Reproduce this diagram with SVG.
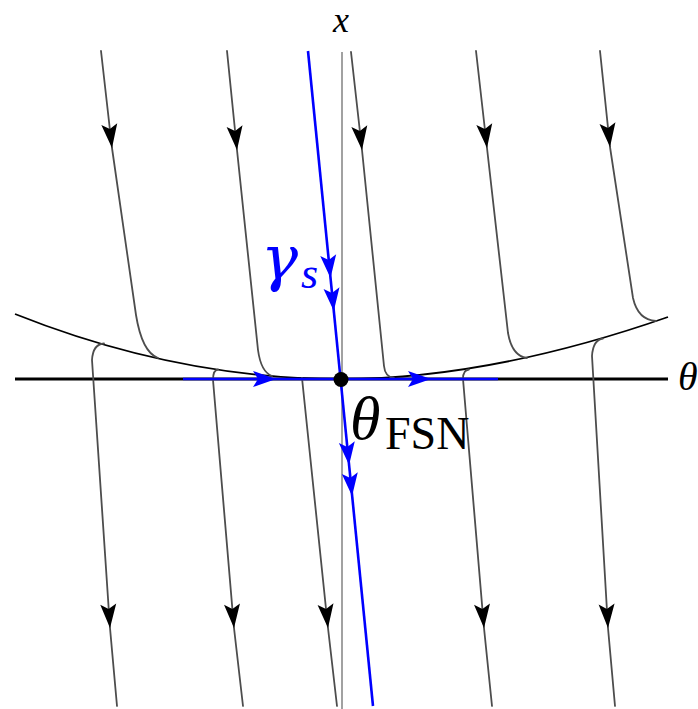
<svg xmlns="http://www.w3.org/2000/svg" xmlns:xlink="http://www.w3.org/1999/xlink" width="698" height="709" viewBox="0 0 698 709">
<style>
.traj{fill:none;stroke:#4d4d4d;stroke-width:1.8;stroke-linejoin:round;stroke-linecap:round}
.axis{fill:none;stroke:#000;stroke-width:3}
.xaxis{fill:none;stroke:#8a8a8a;stroke-width:1.6}
.crit{fill:none;stroke:#000;stroke-width:1.8}
.blue{fill:none;stroke:#0000ff;stroke-width:2.6}
.ahk{fill:#000}
.ahb{fill:#0000ff}
.math{font-family:"Liberation Serif","DejaVu Serif",serif;font-style:italic}
.rm{font-family:"Liberation Serif","DejaVu Serif",serif}
</style>
<defs>
<path id="hk" d="M0,0 L-24,-8 L-19,0 L-24,8 Z"/>
<path id="hb" d="M0,0 L-23,-8 L-18,0 L-23,8 Z"/>
</defs>
<rect width="698" height="709" fill="#fff"/>

<g id="axes">
<line class="xaxis" x1="342" y1="52" x2="342" y2="709"/>
<line class="axis" x1="15" y1="379" x2="668" y2="379"/>
</g>

<g id="critical-curve">
<path class="crit" d="M15,314 Q178,379 341,379 Q490,379 668,317"/>
</g>

<g id="trajectories">
<path class="traj" d="M101,51 L112,148 L136,315 Q142,352 158,358"/>
<path class="traj" d="M227,51 L237,150 L258,350 Q261,372 272,376"/>
<path class="traj" d="M351,52 L362,150 L384,366 Q385,377 394,378"/>
<path class="traj" d="M476,51 L487,148 L508,333 Q512,356 527,358"/>
<path class="traj" d="M600,51 L610,147 L633,298 Q638,320 656,321"/>
<path class="traj" d="M104,343.5 Q93,344 92,360 L110,628 L117,706"/>
<path class="traj" d="M218,369.5 Q213,370 213,380 L234,628 L243,706"/>
<path class="traj" d="M302,378 L328,628 L337,706"/>
<path class="traj" d="M469,369.5 Q463,370 463,379 L484,628 L492,706"/>
<path class="traj" d="M603,338.5 Q593,340 592,356 L608,628 L615,706"/>
<g class="ahk">
<use xlink:href="#hk" transform="translate(112,148) rotate(83.5)"/>
<use xlink:href="#hk" transform="translate(237,150) rotate(84.2)"/>
<use xlink:href="#hk" transform="translate(362,150) rotate(83.6)"/>
<use xlink:href="#hk" transform="translate(487,148) rotate(83.5)"/>
<use xlink:href="#hk" transform="translate(610,147) rotate(84)"/>
<use xlink:href="#hk" transform="translate(110,628) rotate(85.8)"/>
<use xlink:href="#hk" transform="translate(234,628) rotate(85.2)"/>
<use xlink:href="#hk" transform="translate(328,628) rotate(84.1)"/>
<use xlink:href="#hk" transform="translate(484,628) rotate(85.2)"/>
<use xlink:href="#hk" transform="translate(608,628) rotate(86.6)"/>
</g>
</g>

<g id="manifolds">
<line class="blue" x1="183" y1="379" x2="498" y2="379"/>
<line class="blue" x1="308" y1="51" x2="373" y2="706"/>
<g class="ahb">
<use xlink:href="#hb" transform="translate(276,379)"/>
<use xlink:href="#hb" transform="translate(431,379)"/>
<use xlink:href="#hb" transform="translate(330.5,278) rotate(84.3)"/>
<use xlink:href="#hb" transform="translate(333.8,311) rotate(84.3)"/>
<use xlink:href="#hb" transform="translate(349.1,465) rotate(84.3)"/>
<use xlink:href="#hb" transform="translate(352.1,496) rotate(84.3)"/>
</g>
</g>

<g id="fixed-point">
<circle cx="341" cy="379.5" r="7.5" fill="#000"/>
</g>

<g id="labels">
<text class="math" x="341" y="32" font-size="36" text-anchor="middle">x</text>
<text class="math" x="678" y="390" font-size="40">θ</text>
<text x="261" y="279" font-size="62" fill="#0000ff" font-family="'DejaVu Serif',serif" font-style="italic">γ</text>
<text class="math" x="301" y="288" font-size="44" fill="#0000ff">s</text>
<text class="math" x="350" y="439" font-size="62">θ</text>
<text class="rm" x="385" y="449" font-size="46">FSN</text>
</g>
</svg>
